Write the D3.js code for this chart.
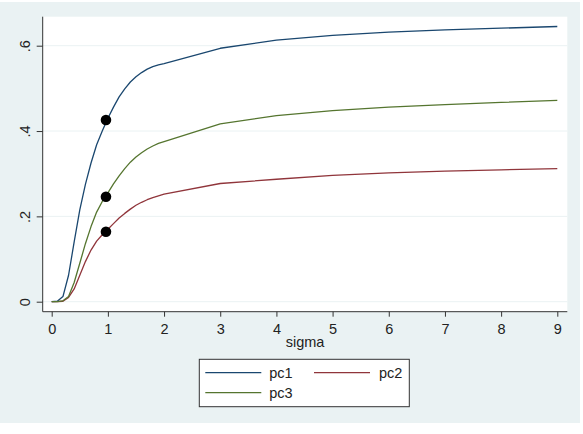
<!DOCTYPE html>
<html>
<head>
<meta charset="utf-8">
<script src="https://cdn.jsdelivr.net/npm/d3@7"></script>
<style>
  html, body { margin: 0; padding: 0; background: #ffffff; }
  svg { display: block; font-family: "Liberation Sans", Arial, sans-serif; }
</style>
</head>
<body>
<svg id="chart" width="583" height="434"></svg>
<script>
// ---- data ----
const sigma = [0, 0.1, 0.2, 0.3, 0.4, 0.5, 0.6, 0.7, 0.8, 0.9, 1.0,
               1.1, 1.2, 1.3, 1.4, 1.5, 1.6, 1.7, 1.8, 1.9, 2.0,
               3, 4, 5, 6, 7, 8, 9];
const pc1 = [0, 0.001, 0.012, 0.062, 0.140, 0.215, 0.275, 0.325, 0.368, 0.400, 0.430,
             0.456, 0.480, 0.499, 0.515, 0.527, 0.537, 0.545, 0.551, 0.555, 0.558,
             0.594, 0.613, 0.624, 0.632, 0.637, 0.641, 0.645];
const pc2 = [0, 0, 0.001, 0.010, 0.030, 0.062, 0.094, 0.121, 0.142, 0.157, 0.170,
             0.183, 0.196, 0.207, 0.217, 0.226, 0.233, 0.239, 0.244, 0.248, 0.252,
             0.277, 0.287, 0.296, 0.302, 0.306, 0.309, 0.312];
const pc3 = [0, 0, 0.002, 0.012, 0.045, 0.090, 0.136, 0.176, 0.210, 0.235, 0.255,
             0.276, 0.295, 0.312, 0.327, 0.339, 0.349, 0.358, 0.365, 0.371, 0.375,
             0.417, 0.436, 0.448, 0.456, 0.462, 0.467, 0.472];
const markerX = [0.966, 0.966, 0.966];
const markerY = [0.426, 0.246, 0.164];
const seriesNames = ["pc1", "pc2", "pc3"];
const seriesColors = ["#1a476f", "#90353b", "#55752f"];
const xTicks = [0, 1, 2, 3, 4, 5, 6, 7, 8, 9];
const yTicks = [0, 0.2, 0.4, 0.6];
const yTickLabels = ["0", ".2", ".4", ".6"];
const xTitle = "sigma";

// ---- layout ----
const FS = 14.5;
const svg = d3.select("#chart");
const plotL = 42.7, plotR = 567.3, plotT = 16.7, plotB = 311.7;

svg.append("rect").attr("x", 0).attr("y", 2).attr("width", 580).attr("height", 421)
  .attr("fill", "#eaf2f3");
svg.append("rect").attr("x", plotL).attr("y", plotT)
  .attr("width", plotR - plotL).attr("height", plotB - plotT).attr("fill", "#ffffff");

const x = d3.scaleLinear().domain([0, 9]).range([51.7, 557.3]);
const y = d3.scaleLinear().domain([0, 0.6]).range([301.7, 45.7]);

// gridlines
svg.append("g").selectAll("line").data(yTicks).join("line")
  .attr("x1", plotL).attr("x2", plotR)
  .attr("y1", d => y(d)).attr("y2", d => y(d))
  .attr("stroke", "#eaf2f3").attr("stroke-width", 1);

// series
const allSeries = [pc1, pc2, pc3];
const line = d3.line().x(d => x(d[0])).y(d => y(d[1])).curve(d3.curveLinear);
allSeries.forEach((vals, i) => {
  svg.append("path")
    .datum(sigma.map((s, j) => [s, vals[j]]))
    .attr("d", line)
    .attr("fill", "none")
    .attr("stroke", seriesColors[i])
    .attr("stroke-width", 1.3)
    .attr("stroke-linejoin", "round");
});

// markers
svg.append("g").selectAll("circle").data(markerX.map((d, i) => [d, markerY[i]])).join("circle")
  .attr("cx", d => x(d[0])).attr("cy", d => y(d[1])).attr("r", 5.3)
  .attr("fill", "#000000");

// x axis
const xAxis = d3.axisBottom(x).tickValues(xTicks).tickSize(5)
  .tickFormat(d3.format("d"));
const gx = svg.append("g").attr("transform", `translate(0,${plotB})`).call(xAxis);
gx.select(".domain").attr("d", `M${plotL},0H${plotR}`).attr("stroke", "#333");
gx.selectAll(".tick line").attr("stroke", "#333");
gx.selectAll(".tick text").attr("y", 22.5).attr("dy", null)
  .attr("font-size", FS).attr("fill", "#222")
  .attr("font-family", "Liberation Sans, Arial, sans-serif");

// y axis
const yAxis = d3.axisLeft(y).tickValues(yTicks).tickSize(6).tickFormat((d, i) => yTickLabels[i]);
const gy = svg.append("g").attr("transform", `translate(${plotL},0)`).call(yAxis);
gy.select(".domain").attr("d", `M0,${plotT}V${plotB}`).attr("stroke", "#333");
gy.selectAll(".tick line").attr("stroke", "#333");
gy.selectAll(".tick text")
  .attr("x", null).attr("dy", null)
  .attr("text-anchor", "middle")
  .attr("transform", `translate(${30 - plotL},0) rotate(-90)`)
  .attr("font-size", FS).attr("fill", "#222")
  .attr("font-family", "Liberation Sans, Arial, sans-serif");

// x title
svg.append("text").attr("x", (plotL + plotR) / 2).attr("y", 347)
  .attr("text-anchor", "middle").attr("font-size", FS).attr("fill", "#222")
  .text(xTitle);

// legend
const lg = svg.append("g");
lg.append("rect").attr("x", 199.3).attr("y", 359.3).attr("width", 210).attr("height", 47.4)
  .attr("fill", "#ffffff").attr("stroke", "#333").attr("stroke-width", 1);
const legendPos = [
  { lx: 205.3, tx: 269.3, y: 372.7 },
  { lx: 314, tx: 379, y: 372.7 },
  { lx: 205.3, tx: 269.3, y: 392.7 }
];
seriesNames.forEach((name, i) => {
  const p = legendPos[i];
  lg.append("line").attr("x1", p.lx).attr("x2", p.lx + 56)
    .attr("y1", p.y).attr("y2", p.y)
    .attr("stroke", seriesColors[i]).attr("stroke-width", 1.3);
  lg.append("text").attr("x", p.tx).attr("y", p.y + 5.5)
    .attr("font-size", FS).attr("fill", "#222").text(name);
});
</script>
</body>
</html>
